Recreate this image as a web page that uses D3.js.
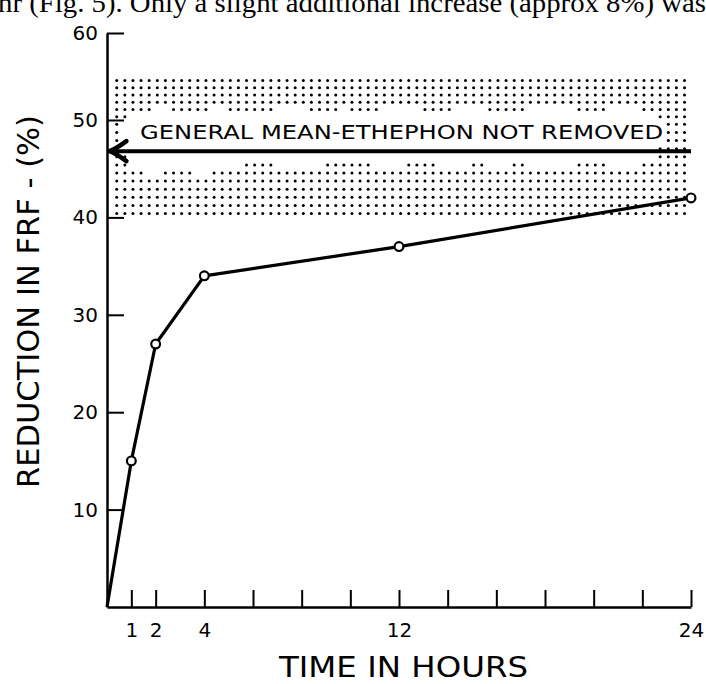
<!DOCTYPE html>
<html>
<head>
<meta charset="utf-8">
<script src="https://cdn.jsdelivr.net/npm/d3@7"></script>
<style>
  body { margin: 0; background: #fff; }
</style>
</head>
<body>
<div id="chart"></div>
<script>
// values
const hours = [0, 1, 2, 4, 12, 24];
const reduction = [0, 15, 27, 34, 37, 42];

const xTickValues = [1, 2, 4, 6, 8, 10, 12, 14, 16, 18, 20, 22, 24];
const xTickLabels = ["1", "2", "4", "12", "24"];
const yTickValues = [10, 20, 30, 40, 50, 60];

// general mean (ethephon not removed) and its stippled range
const generalMean = 46.8;
const meanSpan = [0.1, 24];
const bandBottom = 40.4;
const bandStep = 0.832;
const bandColumns = d3.range(71).map((k) => 0.4 + k / 3);
const FULL = [[0.3, 23.8]];
// stipple rows from the bottom of the band upward, as hour segments
const bandRows = [
  FULL, FULL, FULL, FULL, FULL,
  [[0.3, 1.6], [2.3, 3.5], [4.3, 23.8]],
  [[0.3, 0.8], [5.6, 6.8], [9.0, 10.8], [12.3, 13.45], [14.9, 15.45], [16.6, 17.1], [19.3, 20.5], [21.9, 23.8]],
  [[0.3, 0.8], [22.7, 23.8]],
  [[22.7, 23.8]],
  [[0.3, 0.5], [23.0, 23.8]],
  [[0.3, 0.5], [23.0, 23.8]],
  [[0.3, 0.5], [23.0, 23.8]],
  [[0.3, 0.8], [22.7, 23.8]],
  [[0.3, 1.8], [2.6, 4.1], [4.9, 6.8], [8.2, 9.45], [10.0, 11.2], [12.9, 14.1], [15.6, 17.1], [19.3, 20.5], [21.9, 23.8]],
  FULL, FULL, FULL, FULL,
];

const WIDTH = 706;
const HEIGHT = 684;
const FONT = "DejaVu Sans, sans-serif";

const svg = d3
  .select("#chart")
  .append("svg")
  .attr("width", WIDTH)
  .attr("height", HEIGHT);

svg.append("rect").attr("width", WIDTH).attr("height", HEIGHT).attr("fill", "#fff");

// scales (the hand-drawn 60 tick sits a bit low, so y is piecewise)
const x = d3.scaleLinear().domain([0, 24]).range([107, 691]);
const y = d3.scaleLinear().domain([0, 50, 60]).range([607, 120, 33]);

// line of body text above the figure, cut by the page edge
svg
  .append("text")
  .attr("x", -2)
  .attr("y", 12)
  .attr("font-family", "Liberation Serif, serif")
  .attr("font-size", 28)
  .attr("textLength", 708)
  .attr("lengthAdjust", "spacingAndGlyphs")
  .text("hr (Fig. 5). Only a slight additional increase (approx 8%) was");

// stippled band
const dots = [];
bandRows.forEach((segs, i) => {
  const v = bandBottom + i * bandStep;
  bandColumns.forEach((h) => {
    if (segs.some(([a, b]) => h >= a && h <= b)) dots.push([h, v]);
  });
});
svg
  .append("g")
  .attr("class", "band")
  .selectAll("circle")
  .data(dots)
  .join("circle")
  .attr("cx", (d) => x(d[0]))
  .attr("cy", (d) => y(d[1]))
  .attr("r", 1.5)
  .attr("fill", "#000");

// Add X axis
svg
  .append("g")
  .attr("transform", `translate(0,${y(0)})`)
  .call(
    d3
      .axisBottom(x)
      .tickValues(xTickValues)
      .tickSizeInner(-17)
      .tickSizeOuter(0)
      .tickPadding(16)
      .tickFormat((d) => (xTickLabels.includes(String(d)) ? d : ""))
  )
  .call((g) => {
    g.attr("font-family", FONT).attr("font-size", 20);
    g.select(".domain").attr("stroke", "#000").attr("stroke-width", 2.5);
    g.selectAll(".tick line").attr("stroke", "#000").attr("stroke-width", 2);
    g.selectAll(".tick text").attr("fill", "#000");
  });

// Add Y axis
svg
  .append("g")
  .attr("transform", `translate(${x(0)},0)`)
  .call(
    d3
      .axisLeft(y)
      .tickValues(yTickValues)
      .tickSizeInner(-17)
      .tickSizeOuter(0)
      .tickPadding(9)
  )
  .call((g) => {
    g.attr("font-family", FONT).attr("font-size", 20);
    g.select(".domain").attr("stroke", "#000").attr("stroke-width", 2.5);
    g.selectAll(".tick line").attr("stroke", "#000").attr("stroke-width", 2);
    g.selectAll(".tick text").attr("fill", "#000");
  });

// axis titles
svg
  .append("text")
  .attr("x", 403.5)
  .attr("y", 677)
  .attr("font-family", FONT)
  .attr("font-size", 29)
  .attr("text-anchor", "middle")
  .attr("textLength", 249)
  .attr("lengthAdjust", "spacingAndGlyphs")
  .text("TIME IN HOURS");

svg
  .append("text")
  .attr("transform", "translate(39,301.5) rotate(-90)")
  .attr("font-family", FONT)
  .attr("font-size", 30)
  .attr("text-anchor", "middle")
  .attr("textLength", 373)
  .attr("lengthAdjust", "spacingAndGlyphs")
  .text("REDUCTION IN FRF - (%)");

// general mean arrow
const tip = x(meanSpan[0]);
const my = y(generalMean);
svg
  .append("g")
  .attr("class", "mean")
  .call((g) => {
    g.append("line")
      .attr("x1", tip + 2)
      .attr("x2", x(meanSpan[1]))
      .attr("y1", my)
      .attr("y2", my)
      .attr("stroke", "#000")
      .attr("stroke-width", 4);
    g.append("path")
      .attr(
        "d",
        `M${tip + 17},${my - 10} Q${tip + 6},${my - 2} ${tip},${my} Q${tip + 6},${my + 2} ${tip + 17},${my + 10}`
      )
      .attr("fill", "none")
      .attr("stroke", "#000")
      .attr("stroke-width", 4.5)
      .attr("stroke-linecap", "round")
      .attr("stroke-linejoin", "round");
    g.append("text")
      .attr("x", x(1.36))
      .attr("y", my - 12)
      .attr("font-family", FONT)
      .attr("font-size", 20)
      .attr("textLength", 523)
      .attr("lengthAdjust", "spacingAndGlyphs")
      .text("GENERAL MEAN-ETHEPHON NOT REMOVED");
  });

// Draw the line and points
const points = hours.map((h, i) => ({ h, v: reduction[i] }));
svg
  .append("path")
  .datum(points)
  .attr("fill", "none")
  .attr("stroke", "#000")
  .attr("stroke-width", 3.2)
  .attr("stroke-linejoin", "round")
  .attr("d", d3.line((d) => x(d.h), (d) => y(d.v)));

svg
  .append("g")
  .selectAll("circle")
  .data(points.slice(1))
  .join("circle")
  .attr("cx", (d) => x(d.h))
  .attr("cy", (d) => y(d.v))
  .attr("r", 4.4)
  .attr("fill", "#fff")
  .attr("stroke", "#000")
  .attr("stroke-width", 2.2);
</script>
</body>
</html>
